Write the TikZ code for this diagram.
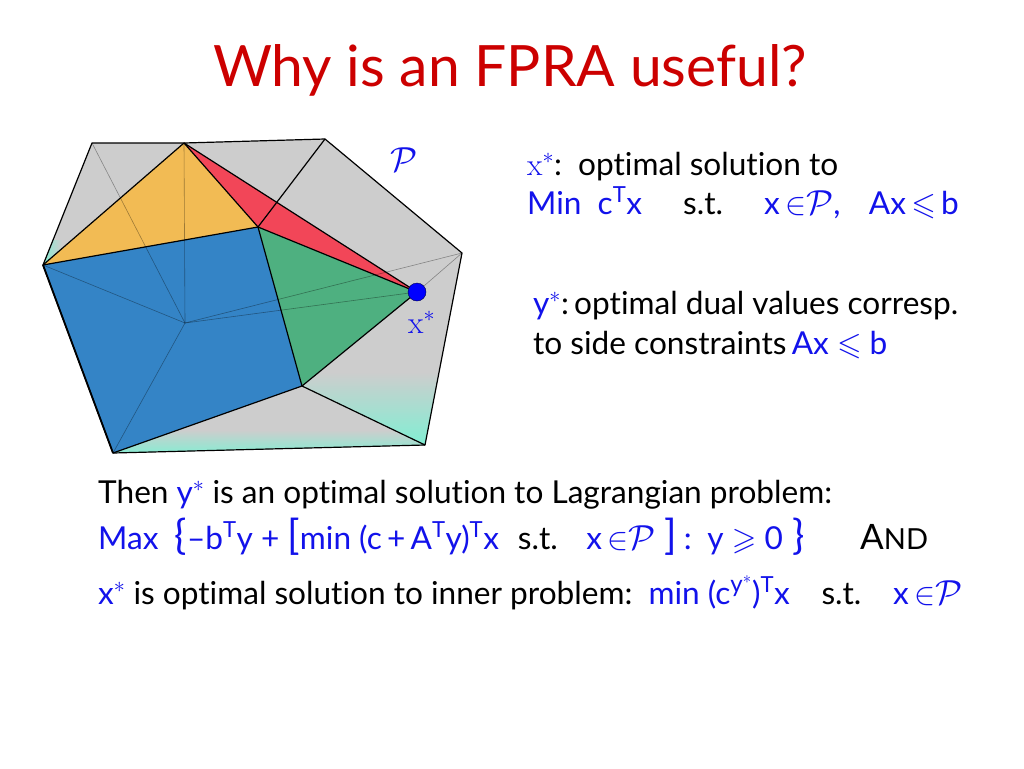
\RequirePackage{fix-cm}
\documentclass[tikz,border=0pt]{standalone}
\usepackage{amsmath}
\usepackage{amssymb}
\usepackage{graphicx}
\usepackage{fontspec}
\setmainfont{Lato}[Ligatures=NoCommon]
\newfontfamily\serifx{Latin Modern Roman}
\usepackage{tikz}
\usetikzlibrary{shapes}
\definecolor{titlered}{RGB}{204,0,0}
\definecolor{txtblue}{RGB}{18,18,235}
\definecolor{facegray}{RGB}{205,205,205}
\definecolor{faceyellow}{RGB}{242,187,84}
\definecolor{facered}{RGB}{242,70,88}
\definecolor{facegreen}{RGB}{78,176,128}
\definecolor{faceblue}{RGB}{52,132,198}
\definecolor{faceaqua}{RGB}{122,242,212}
\tikzstyle{edge}=[
	-,
	draw=black,
	line width=1.2pt,
	line join=round
]
\tikzstyle{hidden}=[
	-,
	draw=black,
	opacity=0.35,
	line width=0.6pt
]
\tikzstyle{txt}=[
	anchor=base west,
	inner sep=0pt,
	align=left,
	font=\fontsize{31.6}{39}\selectfont
]
\tikzstyle{ttl}=[
	anchor=base,
	inner sep=0pt,
	text=titlered,
	font=\fontsize{57}{64}\selectfont
]
\newcommand{\bl}[1]{\textcolor{txtblue}{#1}}
\newcommand{\tsup}[1]{\textsuperscript{#1}}
\newcommand{\bigch}[1]{{\fontsize{41}{41}\selectfont #1}}
\newcommand{\calP}{\scalebox{1.1}{$\mathcal{P}$}}
\newcommand{\xstar}{{\serifx x}$^*$}

\begin{document}
\begin{tikzpicture}[x=1pt, y=-1pt]
\useasboundingbox (0,0) rectangle (1024,768);
\fill[white] (0,0) rectangle (1024,768);

% vertices of the polytope
\coordinate (otl) at (92,143);
\coordinate (apex) at (184,143);
\coordinate (otr) at (325,139);
\coordinate (oright) at (462,253);
\coordinate (obr) at (425,445);
\coordinate (obl) at (113,453);
\coordinate (oleft) at (43,265);
\coordinate (btr) at (258,227);
\coordinate (bbr) at (302,386);
\coordinate (xs) at (417,292);
\coordinate (hid) at (185,323);

% faces
\fill[facegray] (otl) -- (apex) -- (otr) -- (oright) -- (obr) -- (obl) -- (oleft) -- cycle;
\begin{scope}
    \clip (xs) -- (oright) -- (obr) -- (bbr) -- cycle;
    \fill[top color=facegray, bottom color=faceaqua] (280,372) rectangle (475,452);
\end{scope}
\begin{scope}
    \clip (obl) -- (bbr) -- (obr) -- cycle;
    \fill[top color=facegray, bottom color=faceaqua] (100,430) rectangle (440,458);
\end{scope}
\begin{scope}
    \clip (oleft) -- (otl) -- (hid) -- cycle;
    \fill[left color=faceaqua, right color=facegray] (40,240) rectangle (62,270);
\end{scope}
\fill[faceyellow] (oleft) -- (apex) -- (btr) -- cycle;
\fill[facered] (apex) -- (btr) -- (xs) -- cycle;
\fill[facegreen] (btr) -- (xs) -- (bbr) -- cycle;
\fill[faceblue] (oleft) -- (btr) -- (bbr) -- (obl) -- cycle;

% hidden edges
\foreach \v in {apex,otl,oleft,obl,oright,xs} {
    \draw[hidden] (hid) to (\v);
}
\draw[hidden] (xs) to (oright);

% visible edges
\draw[edge] (otl) -- (apex) -- (otr) -- (oright) -- (obr) -- (obl) -- (oleft) -- cycle;
\draw[edge, line width=1.8pt] (obl) to (oleft);
\draw[edge] (oleft) -- (btr) -- (bbr) -- (obl);
\draw[edge] (oleft) to (apex);
\draw[edge] (apex) to (btr);
\draw[edge] (apex) to (xs);
\draw[edge] (btr) to (xs);
\draw[edge] (bbr) to (xs);
\draw[edge] (otr) to (btr);
\draw[edge] (obr) to (bbr);

\node[circle, draw=black!70!blue, fill=blue, inner sep=0pt, minimum size=18pt] (xpt) at (xs) {};
\node[txt, text=txtblue] (xlab) at (408,333) {\xstar};
\node[txt, text=txtblue] (plab) at (390,171) {\calP};

% title
\node[ttl] (title) at (510,86) {Why is an FPRA useful?};

% right hand text
\node[txt] (xdef) at (527,214) {\bl{\xstar}:\ \ optimal solution to\\
    \bl{Min\ \ c\tsup{T}x}\hspace{1.3em}s.t.\hspace{1.3em}\bl{x\,$\in$\calP,\hspace{0.9em}Ax\,$\leqslant$\,b}};
\node[txt, font=\fontsize{31.6}{40}\selectfont] (ydef) at (533,354) {\bl{y\tsup{$*$}}:\,optimal dual values corresp.\\
    to side constraints\,\bl{Ax $\leqslant$ b}};

% bottom text
\node[txt] (then) at (98,503) {Then \bl{y\tsup{$*$}} is an optimal solution to Lagrangian problem:};
\node[txt] (maxln) at (98,549) {\bl{Max\ \ \bigch{\{}--b\tsup{T}y + \bigch{[}min (c\,+\,A\tsup{T}y)\tsup{T}x}\hspace{0.6em}s.t.\hspace{0.9em}\bl{x\,$\in$\calP\hspace{0.3em}\bigch{]}\hspace{0.2em}:\hspace{0.5em}y $\geqslant$ 0\hspace{0.3em}\bigch{\}}}};
\node[txt] (andw) at (860,549) {{\fontsize{35}{38}\selectfont A}{\fontsize{29}{30}\selectfont ND}};
\node[txt] (inner) at (98,604) {\bl{x\tsup{$*$}} is optimal solution to inner problem:\ \ \bl{min (c\tsup{\fontsize{24}{24}\selectfont y$^*$})\tsup{T}x}\hspace{1em}s.t.\hspace{1em}\bl{x\,$\in$\calP}};

\end{tikzpicture}
\end{document}
